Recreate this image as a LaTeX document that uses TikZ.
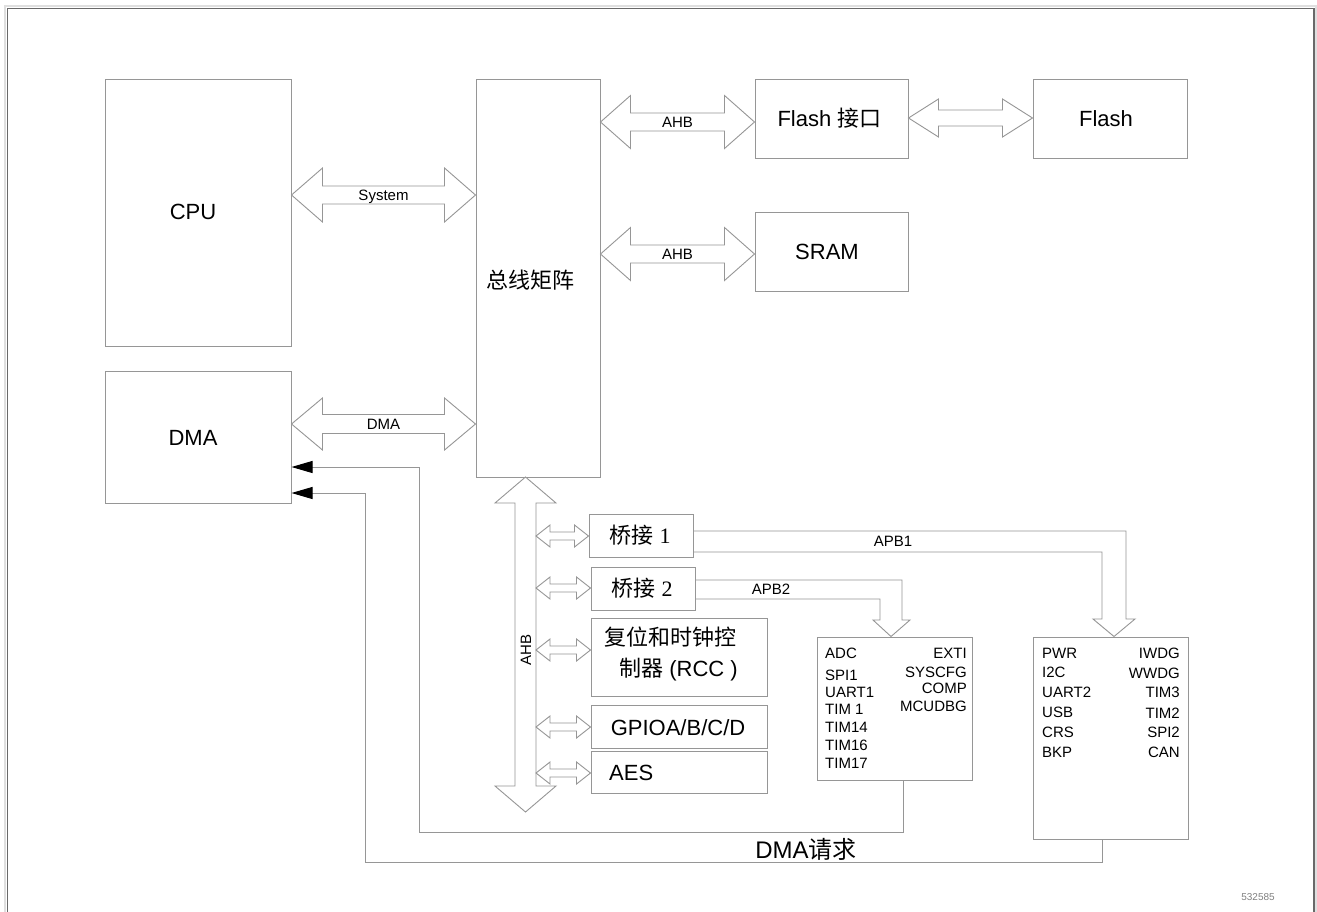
\documentclass[tikz,border=0pt]{standalone}
\usepackage{fontspec}
\setmainfont{Liberation Sans}
\newfontfamily\cjk{Noto Sans CJK SC}
\newfontfamily\sernum{Liberation Serif}
\usetikzlibrary{arrows.meta,calc}
\definecolor{ln}{RGB}{150,150,150}
\definecolor{frm}{RGB}{105,105,105}
% horizontal hollow double arrow between two named coordinates (same y)
\newcommand\hbusarrow[5]{% #1 left, #2 right, #3 head length, #4 head half, #5 shaft half
  \draw[bus] let \p1=(#1), \p2=(#2) in
    (\p1) -- (\x1+#3,\y1+#4) -- (\x1+#3,\y1+#5) -- (\x2-#3,\y1+#5) -- (\x2-#3,\y1+#4)
    -- (\p2) -- (\x2-#3,\y1-#4) -- (\x2-#3,\y1-#5) -- (\x1+#3,\y1-#5) -- (\x1+#3,\y1-#4) -- cycle;}
\begin{document}
\begin{tikzpicture}[x=1pt,y=-1pt,
  box/.style={draw=ln, line width=1pt, inner sep=0pt, rectangle},
  bus/.style={draw=ln, line width=0.9pt, fill=white, line join=miter},
  big/.style={font=\fontsize{22}{26}\selectfont, inner sep=0pt, text height=16pt, text depth=0pt},
  sml/.style={font=\fontsize{15}{18}\selectfont, inner sep=0pt, text height=11pt, text depth=0pt},
  req/.style={draw=ln, line width=1pt, -{Triangle[length=21pt,width=12pt,black]}},
]
\useasboundingbox (0,0) rectangle (1317,911);
\fill[white] (0,0) rectangle (1317,911);
% outer frame
\draw[gray!25, line width=2pt] (5,915) -- (5,6) -- (1316,6) -- (1316,915);
\draw[frm, line width=1.5pt] (7.5,915) -- (7.5,8.5) -- (1314,8.5) -- (1314,915);

% boxes
\node[box, minimum width=186pt, minimum height=267pt] (cpu) at (198,212.5) {};
\node[box, minimum width=186pt, minimum height=132pt] (dma) at (198,437) {};
\node[box, minimum width=124pt, minimum height=398pt] (bus) at (538,278) {};
\node[box, minimum width=153pt, minimum height=79pt] (flif) at (831.5,118.5) {};
\node[box, minimum width=154pt, minimum height=79pt] (flash) at (1110,118.5) {};
\node[box, minimum width=153pt, minimum height=79pt] (sram) at (831.5,251.5) {};
\node[box, minimum width=104pt, minimum height=43pt] (br1) at (641,535.5) {};
\node[box, minimum width=104pt, minimum height=43pt] (br2) at (643,588.5) {};
\node[box, minimum width=176pt, minimum height=78pt] (rcc) at (679,657) {};
\node[box, minimum width=176pt, minimum height=43pt] (gpio) at (679,726.5) {};
\node[box, minimum width=176pt, minimum height=42pt] (aes) at (679,772) {};
\node[box, minimum width=155pt, minimum height=143pt] (apb2) at (894.5,708.5) {};
\node[box, minimum width=155pt, minimum height=202pt] (apb1) at (1110.5,738) {};

% box labels
\node[big] (cpulab) at (193,211) {CPU};
\node[big] (dmalab) at (193,437) {DMA};
\node[big] (buslab) at (530,280) {\cjk 总线矩阵};
\node[big] (fliflab) at (829.5,118) {Flash {\cjk 接口}};
\node[big] (flashlab) at (1106,118) {Flash};
\node[big] (sramlab) at (827,251) {SRAM};
\node[big] (br1lab) at (640,535.5) {{\cjk 桥接} {\sernum 1}};
\node[big] (br2lab) at (642,588.5) {{\cjk 桥接} {\sernum 2}};
\node[big, anchor=west] (rcclabA) at (604,637) {\cjk 复位和时钟控};
\node[big, anchor=west] (rcclabB) at (619,668) {{\cjk 制器} (RCC )};
\node[big] (gpiolab) at (678,727) {GPIOA/B/C/D};
\node[big, anchor=west] (aeslab) at (609,772) {AES};

% big horizontal bus arrows
\coordinate (sysL) at (cpu.east |- 0,195);
\coordinate (sysR) at (bus.west |- 0,195);
\hbusarrow{sysL}{sysR}{31pt}{27pt}{9pt}
\node[sml] (syslab) at ($(sysL)!0.5!(sysR)$) {System};

\coordinate (dmaL) at (dma.east |- 0,424);
\coordinate (dmaR) at (bus.west |- 0,424);
\hbusarrow{dmaL}{dmaR}{31pt}{26pt}{9.5pt}
\node[sml] (dmabuslab) at ($(dmaL)!0.5!(dmaR)$) {DMA};

\coordinate (ahb1L) at (bus.east |- 0,122);
\coordinate (ahb1R) at (flif.west |- 0,122);
\hbusarrow{ahb1L}{ahb1R}{30pt}{26.5pt}{9pt}
\node[sml] (ahb1lab) at ($(ahb1L)!0.5!(ahb1R)$) {AHB};

\coordinate (ahb2L) at (bus.east |- 0,254);
\coordinate (ahb2R) at (sram.west |- 0,254);
\hbusarrow{ahb2L}{ahb2R}{30pt}{26.5pt}{9pt}
\node[sml] (ahb2lab) at ($(ahb2L)!0.5!(ahb2R)$) {AHB};

\coordinate (flL) at (flif.east |- 0,118);
\coordinate (flR) at (flash.west |- 0,118);
\hbusarrow{flL}{flR}{30pt}{19pt}{8pt}

% vertical AHB bus
\coordinate (ahbT) at (525.5,477);
\coordinate (ahbB) at (525.5,812);
\draw[bus] (ahbT) -- (556,503) -- (536,503) -- (536,786) -- (556,786) -- (ahbB)
  -- (495,786) -- (515,786) -- (515,503) -- (495,503) -- cycle;
\node[sml, rotate=90] (ahbvlab) at (525.5,650) {AHB};

% small bus arrows to peripherals
\coordinate (s1L) at (536,536);   \coordinate (s1R) at (br1.west |- s1L);
\coordinate (s2L) at (536,588);   \coordinate (s2R) at (br2.west |- s2L);
\coordinate (s3L) at (536,650);   \coordinate (s3R) at (rcc.west |- s3L);
\coordinate (s4L) at (536,727);   \coordinate (s4R) at (gpio.west |- s4L);
\coordinate (s5L) at (536,773);   \coordinate (s5R) at (aes.west |- s5L);
\hbusarrow{s1L}{s1R}{14pt}{11pt}{4pt}
\hbusarrow{s2L}{s2R}{14pt}{11pt}{4pt}
\hbusarrow{s3L}{s3R}{14pt}{11pt}{4pt}
\hbusarrow{s4L}{s4R}{14pt}{11pt}{4pt}
\hbusarrow{s5L}{s5R}{14pt}{11pt}{4pt}

% APB1 bent arrow
\draw[bus, fill=none] (br1.east |- 0,531) -- (1126,531) -- (1126,619) -- (1135,619)
  -- (apb1.north -| 1114,0) -- (1093,619) -- (1102,619) -- (1102,552) -- (br1.east |- 0,552);
\node[sml] (apb1lab) at (893,541) {APB1};
% APB2 bent arrow
\draw[bus, fill=none] (br2.east |- 0,580) -- (902,580) -- (902,620) -- (910,620)
  -- (apb2.north -| 891,0) -- (873,620) -- (880,620) -- (880,599) -- (br2.east |- 0,599);
\node[sml] (apb2lab) at (771,589) {APB2};

% APB2 peripherals
\foreach \t/\y [count=\i] in {ADC/653, SPI1/675, UART1/692, TIM 1/709, TIM14/727, TIM16/745, TIM17/763}
  \node[sml, anchor=west] (p2l\i) at (825,\y) {\t};
\foreach \t/\y [count=\i] in {EXTI/653, SYSCFG/672, COMP/688, MCUDBG/706}
  \node[sml, anchor=east] (p2r\i) at (967,\y) {\t};
% APB1 peripherals
\foreach \t/\y [count=\i] in {PWR/653, I2C/672, UART2/692, USB/712, CRS/732, BKP/752}
  \node[sml, anchor=west] (p1l\i) at (1042,\y) {\t};
\foreach \t/\y [count=\i] in {IWDG/653, WWDG/673, TIM3/692, TIM2/713, SPI2/732, CAN/752}
  \node[sml, anchor=east] (p1r\i) at (1180,\y) {\t};

% DMA request lines
\coordinate (r1a) at ([yshift=-30pt]dma.east);
\coordinate (r2a) at ([yshift=-56pt]dma.east);
\draw[req] ([xshift=8.5pt]apb2.south) |- (419,832) |- (r1a);
\draw[req] ([xshift=-8.5pt]apb1.south) |- (365,862) |- (r2a);
\node[font=\fontsize{24}{28}\selectfont, inner sep=0pt, text height=17pt, text depth=0pt] (reqlab) at (806,850) {DMA{\cjk 请求}};

% figure id
\node[font=\fontsize{10}{12}\selectfont, text=gray, inner sep=0pt] (figid) at (1258,897) {532585};
\end{tikzpicture}
\end{document}
